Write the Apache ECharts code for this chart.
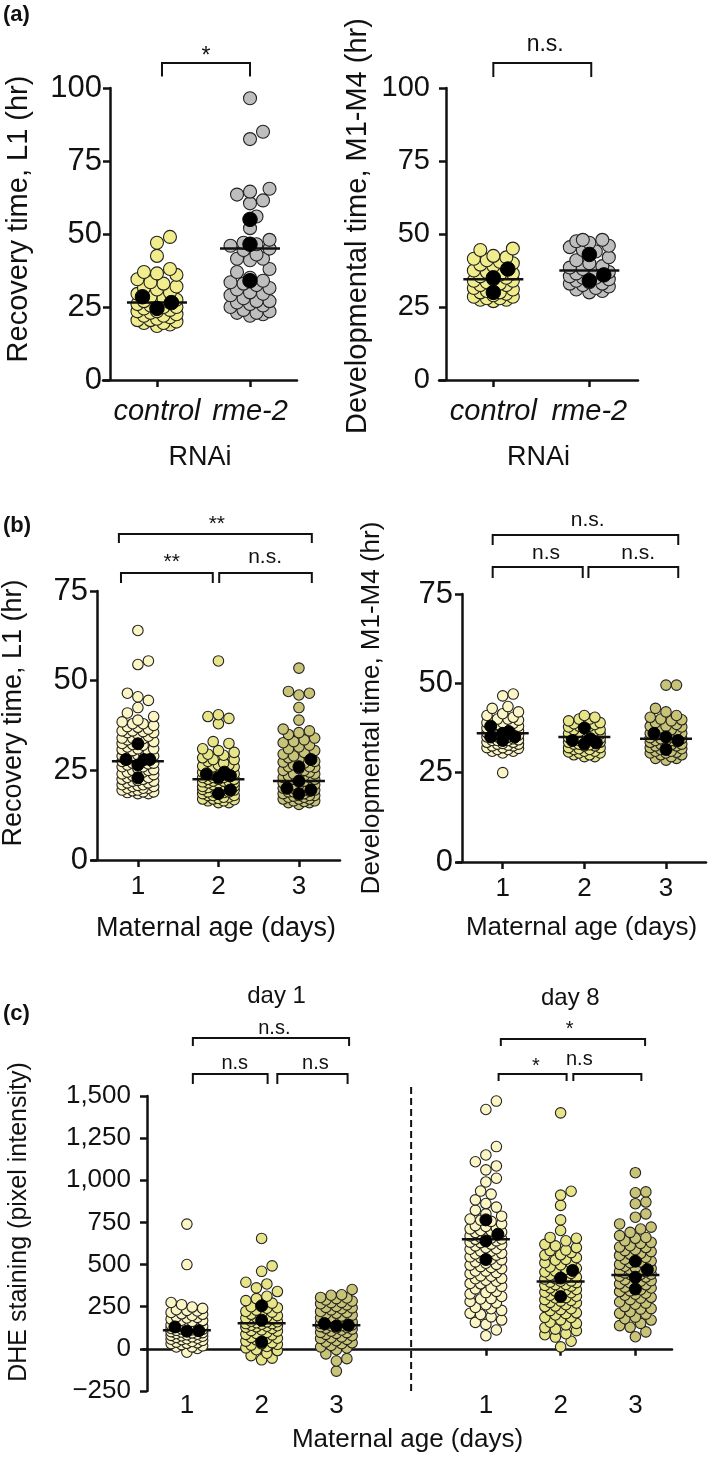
<!DOCTYPE html>
<html><head><meta charset="utf-8">
<script src="https://cdn.jsdelivr.net/npm/echarts@6.0.0/dist/echarts.min.js"></script>
<style>html,body{margin:0;padding:0;background:#fff}#c{width:709px;height:1459px}</style>
</head><body><div id="c"></div><script>
// ================= DATA =================
const aCategories = ['control', 'rme-2'];
const aYTicks = [0, 25, 50, 75, 100];
const bCategories = ['1', '2', '3'];
const bYTicks = [0, 25, 50, 75];
const cCategories = ['1', '2', '3', '1', '2', '3'];
const cYTicks = [-250, 0, 250, 500, 750, 1000, 1250, 1500];
const cYTickLabels = ['\u2212250', '0', '250', '500', '750', '1,000', '1,250', '1,500'];
const cDayLabels = ['day 1', 'day 8'];

// (a) Recovery time, L1 (hr)
const aRecControl = [49, 47, 42.5, 38, 37, 36.5, 36, 34.5, 33.5, 33, 32, 31.5, 31, 30, 29.5, 28.5, 28, 27.5, 27, 26.5, 26, 25.5, 25, 25, 24.5, 23.5, 23.5, 23, 22.5, 22, 22, 21.5, 21, 20.5, 20.5, 20, 19.5, 19.5, 19, 18.5, 24, 27];
const aRecRme2 = [96.5, 85, 82.5, 65.5, 64.5, 63.5, 61.5, 60.5, 56, 52, 48, 47, 46.5, 46, 45, 44.5, 43, 41.5, 41.5, 41, 38, 37, 35, 34, 33.5, 33, 32.5, 31.5, 31, 30, 29.5, 29, 28, 27, 27, 26.5, 26, 25.5, 25, 24, 23.5, 23, 23, 22.5, 22];
const aRecMeans = [[28.5, 24.5, 26.5], [34, 55, 46.5]];
const aRecMedians = [26.5, 45];
// (a) Developmental time, M1-M4 (hr)
const aDevControl = [45, 44.5, 42.5, 42, 41.5, 41, 40.5, 40, 39.5, 39, 38.5, 37.5, 37, 36.5, 36, 35.5, 35, 34.5, 34, 34, 33.5, 33, 32.5, 32.5, 32, 31.5, 31, 30.5, 30, 30, 29.5, 29, 28.5, 28.5, 28, 28, 27.5, 27.5, 27];
const aDevRme2 = [48, 48, 47.5, 47, 46, 45.5, 44.5, 44, 42, 41, 40, 39, 38.5, 38, 37.5, 37, 36.5, 36, 36, 35.5, 35, 35, 34.5, 34, 33.5, 33, 33, 32.5, 32, 31.5, 31, 30.5, 30];
const aDevMeans = [[38, 30, 35], [43, 36, 34]];
const aDevMedians = [34.5, 37.5];

// (b) Recovery time, L1 (hr) by maternal age
const bRecDay1 = [64, 55.5, 54.5, 46.5, 45.5, 44.5, 42.5, 41, 40, 39, 38.5, 38, 37.5, 37, 36.5, 36, 35.5, 35.5, 34.5, 34, 33.5, 33, 33, 32.5, 31.5, 31, 31, 30.5, 30, 29.5, 29, 29, 28.5, 28, 28, 27.5, 27, 27, 26.5, 26, 26, 25.5, 25, 25, 24.5, 24.5, 24, 23.5, 23, 23, 22.5, 22, 22, 21.5, 21, 21, 20.5, 20.5, 20, 20, 19.5, 19.5, 19, 19, 18.5, 18.5, 30, 32, 34, 36, 38, 35, 27.5, 24, 22.5, 21.5, 20,
  37.2, 35.8, 33.8, 32.2, 30.8, 29.3, 26.8, 25.2, 23.8, 22.2, 20.8, 19.3, 18.8, 28.8];
const bRecDay2 = [55.5, 40.5, 40, 39.5, 38, 33, 32.5, 31, 30, 29.5, 28.5, 28, 27.5, 27, 26.5, 26, 26, 25.5, 25, 24.5, 24.5, 24, 24, 23.5, 23, 23, 22.5, 22.5, 22, 22, 21.5, 21.5, 21, 21, 20.5, 20.5, 20, 20, 19.5, 19.5, 19, 19, 18.5, 18.5, 18, 18, 17.5, 17.5, 17, 17, 16.5, 16.5, 16, 16, 22, 21, 20, 19, 18, 24, 23, 22.5, 21.5, 20.5, 25, 26.5, 28, 30.5,
  23.3, 21.8, 20.2, 18.8, 17.2, 16.8, 19.7, 24.3, 26.2, 29.2];
const bRecDay3 = [53.5, 47, 46.5, 46, 42.5, 39, 36.5, 35.5, 35, 34, 33, 32, 31.5, 31, 30, 29.5, 29, 28.5, 28, 27.5, 27, 26.5, 26, 25.5, 25, 25, 24.5, 24, 23.5, 23.5, 23, 23, 22.5, 22, 22, 21.5, 21.5, 21, 21, 20.5, 20.5, 20, 20, 19.5, 19.5, 19, 19, 18.5, 18.5, 18, 18, 17.5, 17.5, 17, 17, 16.5, 16.5, 16, 16, 15.5, 21, 20, 19, 18, 17, 22.5, 24, 26, 33.5, 30.5,
  28.7, 27.3, 25.8, 23.7, 22.3, 20.7, 19.2, 17.8, 16.3, 32.7, 36];
const bRecMeans = [[28, 22.9, 32.4, 28, 26.5, 28], [24.5, 23, 24, 23.5, 19.5, 18.5], [28, 26, 22, 19.5, 20, 18.5]];
const bRecMedians = [27.5, 22.5, 22];
// (b) Developmental time, M1-M4 (hr) by maternal age
const bDevDay1 = [47, 46.5, 43.5, 43, 42, 41.5, 41, 40.5, 40, 40, 39.5, 39, 39, 38.5, 38, 38, 37.5, 37.5, 37, 37, 36.5, 36.5, 36, 36, 35.5, 35.5, 35, 35, 34.5, 34.5, 34, 34, 33.5, 33.5, 33, 33, 32.5, 32.5, 32, 32, 31.5, 31.5, 31, 31, 30.5, 25, 36, 35, 34, 37,
  38.8, 37.7, 36.8, 35.2, 34.2, 33.2, 32.7, 31.8, 39.7, 36.2];
const bDevDay2 = [41, 40.5, 40, 40, 39.5, 39, 39, 38.5, 38, 38, 37.5, 37, 37, 36.5, 36, 36, 35.5, 35.5, 35, 35, 34.5, 34.5, 34, 34, 33.5, 33.5, 33, 33, 32.5, 32.5, 32, 32, 31.5, 31.5, 31, 31, 30.5, 30.5, 30, 30, 29.5, 29.5, 35, 34, 36,
  37.8, 36.7, 35.8, 34.8, 33.7, 32.8, 31.7, 30.8, 38.7];
const bDevDay3 = [49.5, 49.5, 43, 42, 41, 40.5, 40, 39.5, 39, 38.5, 38, 38, 37.5, 37, 37, 36.5, 36, 36, 35.5, 35, 35, 34.5, 34.5, 34, 34, 33.5, 33, 33, 32.5, 32.5, 32, 32, 31.5, 31, 31, 30.5, 30.5, 30, 30, 29.5, 29, 29, 28.5, 35, 34, 33,
  37.8, 36.7, 35.8, 34.8, 33.7, 32.8, 31.7, 30.7, 39.8];
const bDevMeans = [[38, 36.5, 35, 34, 35, 36], [37.5, 34.5, 33.3, 33, 34], [36, 34, 31.5, 35]];
const bDevMedians = [36, 35, 34.5];

// (c) DHE staining (pixel intensity): day 1 and day 8, maternal age 1-3
const cDay1Age1 = [740, 500, 275, 262, 248, 240, 232, 225, 216, 205, 198, 190, 183, 176, 170, 163, 155, 150, 146, 140, 134, 130, 126, 121, 118, 113, 108, 104, 100, 96, 91, 87, 84, 80, 75, 72, 68, 63, 60, 55, 50, 44, 40, 36, 31, 25, 18, 11, 2, -20, 115, 110, 124, 95,
  228, 208, 187, 168, 142, 128, 102, 78, 57, 33, 12];
const cDay1Age2 = [655, 492, 460, 395, 385, 362, 340, 312, 298, 286, 271, 262, 250, 241, 230, 222, 213, 205, 197, 190, 182, 176, 168, 161, 155, 150, 146, 140, 134, 128, 121, 113, 105, 98, 91, 83, 76, 68, 60, 53, 46, 37, 30, 22, 14, 6, -10, -26, -40, -55, -65, 150, 160, 131,
  244, 218, 186, 164, 137, 108, 86, 63, 27, -5];
const cDay1Age3 = [352, 321, 318, 305, 298, 290, 283, 276, 268, 261, 252, 246, 238, 231, 222, 216, 207, 200, 195, 188, 181, 173, 166, 160, 155, 151, 146, 142, 137, 132, 127, 122, 117, 112, 105, 98, 92, 86, 78, 71, 62, 56, 48, 41, 31, 20, 11, -5, -30, -58, -72, -132, 145, 151, 139,
  302, 274, 243, 211, 184, 158, 124, 96, 66, 36, 5];
const cDay8Age1 = [1470, 1420, 1200, 1150, 1110, 1085, 1062, 1012, 990, 936, 918, 862, 841, 822, 801, 787, 770, 756, 741, 726, 712, 700, 690, 681, 670, 661, 650, 641, 630, 621, 611, 600, 591, 580, 567, 556, 541, 528, 516, 501, 488, 476, 461, 446, 431, 416, 401, 386, 371, 356, 341, 326, 311, 296, 281, 262, 246, 228, 211, 190, 171, 145, 112, 78, 652, 641, 702, 561,
  884, 763, 731, 717, 693, 678, 657, 633, 618, 594, 579, 563, 546, 532, 508, 497, 483, 462, 452, 433, 418, 407, 388, 363, 334, 298, 273, 238, 204, 157];
const cDay8Age2 = [1400, 912, 935, 851, 765, 702, 661, 641, 620, 601, 586, 571, 556, 541, 526, 511, 498, 486, 472, 461, 448, 437, 426, 414, 403, 393, 382, 372, 362, 352, 343, 333, 322, 312, 302, 292, 283, 272, 262, 251, 238, 227, 214, 201, 187, 172, 158, 142, 126, 108, 90, 70, 45, 12, 401, 421, 381,
  656, 611, 583, 558, 531, 506, 478, 456, 441, 417, 396, 377, 366, 348, 336, 318, 304, 288, 276, 254, 233, 209, 186, 151, 117, 84];
const cDay8Age3 = [1045, 931, 926, 871, 861, 801, 781, 741, 711, 691, 672, 656, 641, 626, 612, 601, 588, 577, 566, 554, 543, 532, 521, 511, 501, 490, 481, 470, 461, 451, 441, 431, 420, 410, 401, 391, 380, 371, 361, 351, 340, 330, 318, 306, 292, 278, 265, 251, 236, 220, 206, 188, 171, 151, 128, 101, 72, 451, 441, 462,
  722, 661, 632, 604, 583, 561, 537, 516, 494, 476, 458, 443, 426, 404, 386, 366, 344, 324, 301, 271, 239, 211, 179, 138];
const cMeans = [[130, 105, 108], [255, 170, 40], [150, 135, 140], [765, 680, 640, 530], [465, 420, 310], [520, 470, 425, 355]];
const cMedians = [110, 152, 140, 650, 400, 438];

// significance labels
const aRecSig = ['*'];
const aDevSig = ['n.s.'];
const bRecSig = ['**', '**', 'n.s.'];
const bDevSig = ['n.s.', 'n.s', 'n.s.'];
const cDay1Sig = ['n.s.', 'n.s', 'n.s'];
const cDay8Sig = ['*', '*', 'n.s'];

// ================= LAYOUT / STYLE =================
const FONT = 'Liberation Sans, Arial, Helvetica, sans-serif';
const INK = '#111';
const YELLOW_A = '#F1ED8C', GREY_A = '#BEBEBE';
const AGE1 = '#FCF6C5', AGE2 = '#E7E588', AGE3 = '#C8C377';
const cXPos = [1, 2, 3, 5, 6, 7];

const chart = echarts.init(document.getElementById('c'), null, {renderer: 'canvas'});

const axisLine = {show: true, onZero: false, lineStyle: {color: INK, width: 2.5}};
const axisTick = {show: true, length: 7, lineStyle: {color: INK, width: 2.5}};

function yAx(gi, min, max, interval, fs, margin, offset, fmt) {
  return {gridIndex: gi, type: 'value', min, max, interval, offset,
    axisLine, axisTick, splitLine: {show: false},
    axisLabel: {color: INK, fontFamily: FONT, fontSize: fs, margin, formatter: fmt}};
}
function xAx(gi, min, max, vals, labels, fs, margin, italic, name, nameGap, nameFs, extra) {
  return Object.assign({gridIndex: gi, type: 'value', min, max,
    axisLine, splitLine: {show: false},
    axisTick: Object.assign({customValues: vals}, axisTick),
    axisLabel: {customValues: vals, color: INK, fontFamily: FONT, fontSize: fs, margin,
      fontStyle: italic ? 'italic' : 'normal',
      formatter: v => labels[vals.indexOf(v)]},
    name, nameLocation: 'middle', nameGap,
    nameTextStyle: {color: INK, fontFamily: FONT, fontSize: nameFs}}, extra || {});
}

const base = {
  animation: false,
  backgroundColor: '#fff',
  textStyle: {fontFamily: FONT},
  grid: [
    {left: 103, top: 88, width: 194, height: 292},
    {left: 439, top: 88, width: 199, height: 292},
    {left: 92, top: 591, width: 248, height: 269},
    {left: 457, top: 594, width: 249, height: 268},
    {left: 143, top: 1096, width: 529, height: 295}
  ],
  xAxis: [
    xAx(0, 0.42, 2.505, [1, 2], aCategories, 29, 17, true, 'RNAi', 64, 27),
    xAx(1, 0.434, 2.507, [1, 2], aCategories, 29, 17, true, 'RNAi', 64, 27),
    xAx(2, 0.43, 3.51, [1, 2, 3], bCategories, 26, 14, false, 'Maternal age (days)', 55, 27),
    xAx(3, 0.44, 3.49, [1, 2, 3], bCategories, 26, 14, false, 'Maternal age (days)', 53, 26),
    Object.assign(xAx(4, 0.413, 7.49, cXPos, cCategories, 26, 2, false, '', 0, 26),
      {axisLine: {show: true, onZero: true, lineStyle: {color: INK, width: 2.5}}, axisLabel: {show: false}}),
    Object.assign(xAx(4, 0.413, 7.49, cXPos, cCategories, 26, 2, false, 'Maternal age (days)', 36, 26),
      {position: 'bottom', axisLine: {show: false, onZero: false}, axisTick: {show: false}})
  ],
  yAxis: [
    yAx(0, 0, 100, 25, 31, 8, -7),
    yAx(1, 0, 100, 25, 29, 16, -7),
    yAx(2, 0, 75, 25, 31, 9, -5),
    yAx(3, 0, 75, 25, 31, 9, -5),
    yAx(4, -250, 1500, 250, 26, 16, -4, v => cYTickLabels[cYTicks.indexOf(v)])
  ]
};
chart.setOption(base);

const panels = [
  {g: 0, d: 13, W: 20, hw: 30, md: 14.5, groups: [
    [1, aRecControl, aRecMeans[0], aRecMedians[0], YELLOW_A],
    [2, aRecRme2, aRecMeans[1], aRecMedians[1], GREY_A]]},
  {g: 1, d: 13, W: 20, hw: 30, md: 14.5, groups: [
    [1, aDevControl, aDevMeans[0], aDevMedians[0], YELLOW_A],
    [2, aDevRme2, aDevMeans[1], aDevMedians[1], GREY_A]]},
  {g: 2, d: 10.5, W: 20, hw: 26, md: 12, groups: [
    [1, bRecDay1, bRecMeans[0], bRecMedians[0], AGE1],
    [2, bRecDay2, bRecMeans[1], bRecMedians[1], AGE2],
    [3, bRecDay3, bRecMeans[2], bRecMedians[2], AGE3]]},
  {g: 3, d: 10.5, W: 20, hw: 26, md: 12, groups: [
    [1, bDevDay1, bDevMeans[0], bDevMedians[0], AGE1],
    [2, bDevDay2, bDevMeans[1], bDevMedians[1], AGE2],
    [3, bDevDay3, bDevMeans[2], bDevMedians[2], AGE3]]},
  {g: 4, d: 10.5, W: 19, hw: 24, md: 12, groups: [
    [cXPos[0], cDay1Age1, cMeans[0], cMedians[0], AGE1],
    [cXPos[1], cDay1Age2, cMeans[1], cMedians[1], AGE2],
    [cXPos[2], cDay1Age3, cMeans[2], cMedians[2], AGE3],
    [cXPos[3], cDay8Age1, cMeans[3], cMedians[3], AGE1],
    [cXPos[4], cDay8Age2, cMeans[4], cMedians[4], AGE2],
    [cXPos[5], cDay8Age3, cMeans[5], cMedians[5], AGE3]]}
];

function px(gi, p) { return chart.convertToPixel({gridIndex: gi}, p); }

// beeswarm layout: spreads equal-ish values sideways so the dots do not overlap
function swarm(vals, cx, gi, d, W) {
  const s = vals.slice().sort((a, b) => a - b);
  const kx = px(gi, [cx + 1, 0])[0] - px(gi, [cx, 0])[0];
  const step = d * 0.5, nMax = Math.floor(W / step);
  const placed = [], res = [];
  for (const v of s) {
    const py = px(gi, [cx, v])[1];
    let best = 0, bestD = -1;
    for (let k = 0; k <= 2 * nMax; k++) {
      const off = k === 0 ? 0 : (k % 2 ? 1 : -1) * Math.ceil(k / 2) * step;
      let m = Infinity;
      for (const q of placed) {
        const dy = q[1] - py;
        if (Math.abs(dy) >= d) continue;
        const dd = Math.hypot(q[0] - off, dy);
        if (dd < m) m = dd;
      }
      if (m >= d * 0.95) { best = off; bestD = m; break; }
      if (m > bestD) { bestD = m; best = off; }
    }
    placed.push([best, py]);
    res.push([cx + best / kx, v]);
  }
  return res;
}

const series = [];
panels.forEach(P => {
  const kx = px(P.g, [2, 0])[0] - px(P.g, [1, 0])[0];
  P.groups.forEach(gr => {
    series.push({type: 'scatter', xAxisIndex: P.g, yAxisIndex: P.g, z: 2,
      symbol: 'circle', symbolSize: P.d, data: swarm(gr[1], gr[0], P.g, P.d, P.W),
      itemStyle: {color: gr[4], borderColor: '#222', borderWidth: 1.1, opacity: 1}});
    series.push({type: 'scatter', xAxisIndex: P.g, yAxisIndex: P.g, z: 4,
      symbol: 'circle', symbolSize: P.md, data: swarm(gr[2], gr[0], P.g, P.md, 16),
      itemStyle: {color: '#000', borderColor: '#000', borderWidth: 1, opacity: 1}});
  });
  series.push({type: 'custom', xAxisIndex: P.g, yAxisIndex: P.g, z: 3,
    data: P.groups.map(gr => [gr[0], gr[3], P.hw / kx]),
    encode: {x: 0, y: 1},
    renderItem: (params, api) => {
      const c = api.value(0), m = api.value(1), h = api.value(2);
      const p1 = api.coord([c - h, m]), p2 = api.coord([c + h, m]);
      return {type: 'line', shape: {x1: p1[0], y1: p1[1], x2: p2[0], y2: p2[1]},
        style: {stroke: INK, lineWidth: 2.5}};
    }});
});
// dashed divider between day 1 and day 8 in (c)
series.push({type: 'line', xAxisIndex: 4, yAxisIndex: 4, clip: false, symbol: 'none', z: 1,
  data: [[4, -250], [4, 1560]], lineStyle: {color: INK, width: 2, type: [7, 4]}});

// brackets: [grid, x1, x2, pxAboveTop line, pxAboveTop leg ends, label x, pxAboveTop label, label, font]
const brackets = [
  [0, 1.054, 2.0, 25, 11.5, 1.527, 36, aRecSig[0], 23],
  [1, 1.0, 2.02, 25, 11, 1.54, 43, aDevSig[0], 23],
  [2, 0.764, 3.16, 57, 48, 1.98, 71, bRecSig[0], 21],
  [2, 0.79, 1.93, 18, 8, 1.42, 33.5, bRecSig[1], 21],
  [2, 2.01, 3.16, 18, 8, 2.58, 34, bRecSig[2], 21],
  [3, 0.877, 3.15, 59, 49, 2.04, 74, bDevSig[0], 21],
  [3, 0.877, 1.98, 27, 16, 1.53, 41, bDevSig[1], 21],
  [3, 2.05, 3.15, 27, 16, 2.66, 41, bDevSig[2], 21],
  [4, 1.08, 3.17, 58, 50, 2.17, 68, cDay1Sig[0], 20],
  [4, 1.08, 2.08, 22, 12, 1.64, 33, cDay1Sig[1], 20],
  [4, 2.21, 3.15, 22, 12, 2.72, 33, cDay1Sig[2], 20],
  [4, 5.2, 7.13, 57, 50, 6.12, 71, cDay8Sig[0], 20],
  [4, 5.17, 6.08, 22, 15, 5.67, 34, cDay8Sig[1], 20],
  [4, 6.17, 7.08, 22, 15, 6.25, 37, cDay8Sig[2], 20]
];
const yMaxes = [100, 100, 75, 75, 1500];
const graphic = [];
function txt(x, y, text, fs, opt) {
  return Object.assign({type: 'text', x, y, silent: true, z: 10,
    style: Object.assign({text, fill: INK, fontFamily: FONT, fontSize: fs,
      align: 'center', verticalAlign: 'middle', textAlign: 'center', textVerticalAlign: 'middle'}, (opt && opt.style) || {})},
    (opt && opt.el) || {});
}
brackets.forEach(b => {
  const top = px(b[0], [1, yMaxes[b[0]]])[1];
  const x1 = px(b[0], [b[1], 0])[0], x2 = px(b[0], [b[2], 0])[0];
  const yl = top - b[3], yg = top - b[4];
  graphic.push({type: 'polyline', silent: true, z: 10,
    shape: {points: [[x1, yg], [x1, yl], [x2, yl], [x2, yg]]},
    style: {stroke: INK, lineWidth: 2, fill: null}});
  const isStar = /^\*+$/.test(b[7]);
  graphic.push(txt(px(b[0], [b[5], 0])[0], top - b[6] + (isStar ? b[8] * 0.22 : 0), b[7], b[8]));
});
// day labels for (c)
const cTop = px(4, [1, 1500])[1];
graphic.push(txt(px(4, [2.2, 0])[0], cTop - 100, cDayLabels[0], 24));
graphic.push(txt(px(4, [6.13, 0])[0], cTop - 98, cDayLabels[1], 24));
// panel letters
graphic.push(txt(3, 15, '(a)', 22, {style: {fontWeight: 'bold', align: 'left', textAlign: 'left'}}));
graphic.push(txt(3, 526, '(b)', 22, {style: {fontWeight: 'bold', align: 'left', textAlign: 'left'}}));
graphic.push(txt(3, 1014, '(c)', 22, {style: {fontWeight: 'bold', align: 'left', textAlign: 'left'}}));
// y-axis titles
const rot = {el: {rotation: Math.PI / 2}};
graphic.push(txt(19, 219, 'Recovery time, L1 (hr)', 29, rot));
graphic.push(txt(358, 226, 'Developmental time, M1-M4 (hr)', 29, rot));
graphic.push(txt(14, 713, 'Recovery time, L1 (hr)', 27, rot));
graphic.push(txt(372, 708, 'Developmental time, M1-M4 (hr)', 26, rot));
graphic.push(txt(19, 1222, 'DHE staining (pixel intensity)', 25, rot));

chart.setOption({series, graphic});
</script></body></html>
